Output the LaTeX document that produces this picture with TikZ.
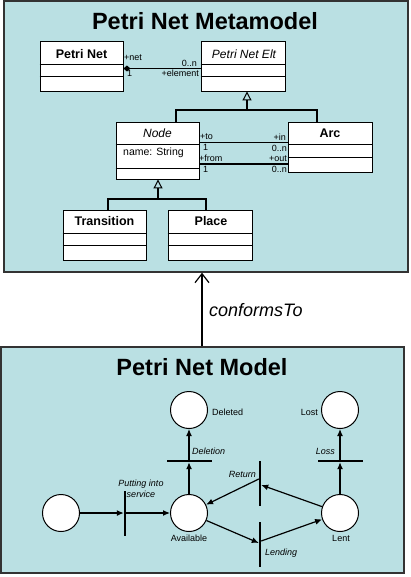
\documentclass[tikz,border=0pt]{standalone}
\usepackage{fontspec}
\setmainfont{Liberation Sans}
\usetikzlibrary{arrows.meta}
\definecolor{panelfill}{RGB}{186,224,227}
\definecolor{panelline}{RGB}{51,51,51}
\begin{document}
\begin{tikzpicture}[x=1pt,y=-1pt,
  panel/.style={draw=panelline, line width=1.5pt, fill=panelfill, inner sep=0pt},
  umlbox/.style={draw=black, fill=white, line width=0.9pt, inner sep=0pt},
  umlline/.style={line width=0.9pt},
  clsname/.style={font=\fontsize{12.5}{14}\selectfont\bfseries, inner sep=0pt},
  clsitalic/.style={font=\fontsize{12}{14}\selectfont\itshape, inner sep=0pt},
  attr/.style={font=\fontsize{10.5}{12}\selectfont, inner sep=0pt},
  small/.style={font=\fontsize{9}{10}\selectfont, inner sep=0pt},
  assoc/.style={line width=1.3pt},
  gen/.style={line width=1.3pt, -{Triangle[open,length=9pt,width=9pt,line width=1pt]}},
  place/.style={circle, draw=black, fill=white, line width=1pt, minimum size=37pt, inner sep=0pt},
  vbar/.style={fill=black, minimum width=2pt, minimum height=45pt, inner sep=0pt},
  hbar/.style={fill=black, minimum width=45pt, minimum height=2pt, inner sep=0pt},
  pnarc/.style={line width=1.2pt, -{Latex[length=7pt,width=6pt]}},
  plabel/.style={font=\fontsize{9}{10}\selectfont, inner sep=0pt},
  tlabel/.style={font=\fontsize{9}{11}\selectfont\itshape, inner sep=0pt},
]
\useasboundingbox (0,0) rectangle (411,577);
% panels
\node[panel, minimum width=404pt, minimum height=271pt] (mm) at (206,136.5) {};
\node[panel, minimum width=403pt, minimum height=226pt] (md) at (202.5,460) {};
\node[font=\fontsize{23.5}{28}\selectfont\bfseries, inner sep=0pt] (t1) at (205,21) {Petri Net Metamodel};
\node[font=\fontsize{23.5}{28}\selectfont\bfseries, inner sep=0pt] (t2) at (202,367) {Petri Net Model};
% conformsTo
\draw[line width=1.2pt, -{Straight Barb[length=9pt,width=14pt,line width=1.2pt]}] (md.north -| 202,0) -- (mm.south -| 202,0);
\node[font=\fontsize{18}{20}\selectfont\itshape, anchor=west, inner sep=0pt] (cf) at (209,310) {conformsTo};
% UML classes
\node[umlbox, minimum width=83pt, minimum height=50pt] (pn) at (81.5,66) {};
\node[umlbox, minimum width=84pt, minimum height=50pt] (pne) at (243,66) {};
\node[umlbox, minimum width=83pt, minimum height=57pt] (nd) at (157.5,150.5) {};
\node[umlbox, minimum width=84pt, minimum height=50pt] (arc) at (330,147) {};
\node[umlbox, minimum width=83pt, minimum height=50pt] (tr) at (104.5,235) {};
\node[umlbox, minimum width=84pt, minimum height=50pt] (pl) at (210,235) {};
\foreach \b/\ya/\yb in {pn/64/76, pne/64/76, nd/144/168, arc/144/157, tr/233/245, pl/233/245}{
  \draw[umlline] (\b.west |- 0,\ya) -- (\b.east |- 0,\ya);
  \draw[umlline] (\b.west |- 0,\yb) -- (\b.east |- 0,\yb);
}
\node[clsname] (pnT) at (81.5,54) {Petri Net};
\node[clsitalic] (pneT) at (244,54) {Petri Net Elt};
\node[clsitalic] (ndT) at (157.5,133.5) {Node};
\node[attr, anchor=west] (ndA) at (123,152.5) {name: String};
\node[clsname] (arcT) at (330,133) {Arc};
\node[clsname] (trT) at (104.5,221) {Transition};
\node[clsname] (plT) at (211,221) {Place};
% generalizations
\coordinate (g1) at (247,110);
\draw[gen] (nd.north -| 176,0) |- (g1) -- (pne.south -| g1);
\draw[assoc] (arc.north -| 317,0) |- (g1);
\coordinate (g2) at (158,199);
\draw[gen] (tr.north -| 108,0) |- (g2) -- (nd.south -| g2);
\draw[assoc] (pl.north -| 206,0) |- (g2);
% associations
\draw[assoc, {Diamond[length=7pt,width=6pt]}-] (pn.east |- 0,68.5) -- (pne.west |- 0,68.5);
\draw[assoc] (nd.east |- 0,142.5) -- (arc.west |- 0,142.5);
\draw[assoc] (nd.east |- 0,164) -- (arc.west |- 0,164);
\node[small, anchor=west] (a1) at (124,58) {+net};
\node[small, anchor=west] (a2) at (127,73.5) {1};
\node[small, anchor=east] (a3) at (197,63) {0..n};
\node[small, anchor=east] (a4) at (199,73.5) {+element};
\node[small, anchor=west] (b1) at (200,137) {+to};
\node[small, anchor=west] (b2) at (203,147.5) {1};
\node[small, anchor=east] (b3) at (286,137) {+in};
\node[small, anchor=east] (b4) at (287,148) {0..n};
\node[small, anchor=west] (c1) at (199,158.5) {+from};
\node[small, anchor=west] (c2) at (203,169) {1};
\node[small, anchor=east] (c3) at (287,158.5) {+out};
\node[small, anchor=east] (c4) at (287,169) {0..n};
% Petri net model
\node[place] (src) at (61,513) {};
\node[place] (avail) at (189,513) {};
\node[place] (lent) at (340,513) {};
\node[place] (del) at (189,410) {};
\node[place] (lost) at (340,410) {};
\node[vbar] (tput) at (125,513.5) {};
\node[hbar] (tdel) at (189,461) {};
\node[hbar] (tloss) at (340,461) {};
\node[vbar] (tret) at (260,483.5) {};
\node[vbar] (tlend) at (260,544) {};
\draw[pnarc] (src) -- (tput.west |- src);
\draw[pnarc] (tput.east |- avail) -- (avail);
\draw[pnarc] (avail) -- (tdel);
\draw[pnarc] (tdel) -- (del);
\draw[pnarc] (lent) -- (tloss);
\draw[pnarc] (tloss) -- (lost);
\draw[pnarc] (lent) -- (tret.east |- 0,485);
\draw[pnarc] (tret.west |- 0,479) -- (avail);
\draw[pnarc] (avail) -- (tlend.west |- 0,543);
\draw[pnarc] (tlend.east |- 0,541) -- (lent);
\node[tlabel, align=center] (lput) at (141,488.5) {Putting into\\service};
\node[tlabel, anchor=west] (ldel) at (192,451) {Deletion};
\node[tlabel, anchor=east] (lloss) at (335,451) {Loss};
\node[tlabel, anchor=east] (lret) at (256,474) {Return};
\node[tlabel, anchor=west] (llend) at (265,553) {Lending};
\node[plabel] (lavail) at (189,538) {Available};
\node[plabel] (llent) at (341,538) {Lent};
\node[plabel, anchor=west] (ldeleted) at (212,412) {Deleted};
\node[plabel, anchor=east] (llost) at (318,412) {Lost};
\end{tikzpicture}
\end{document}
